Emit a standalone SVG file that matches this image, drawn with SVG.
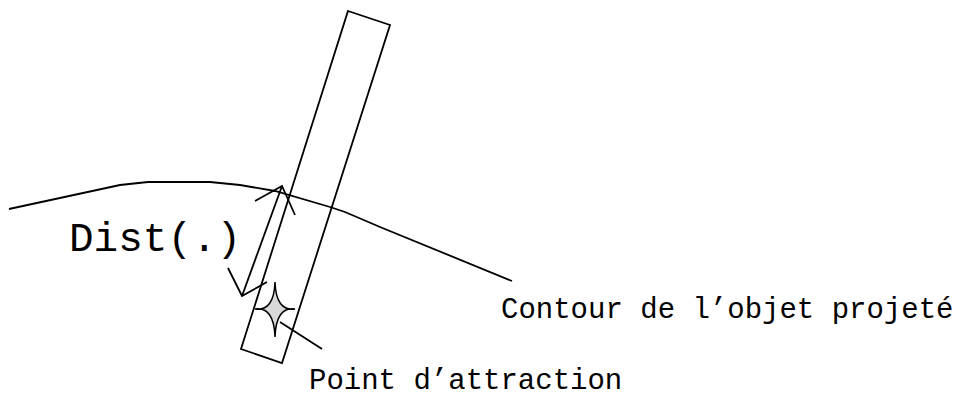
<svg xmlns="http://www.w3.org/2000/svg" width="960" height="398" viewBox="0 0 960 398">
<style>
.ln{fill:none;stroke:#000;stroke-width:1.8;stroke-linejoin:miter}
.t{font-family:"Liberation Mono","Courier New",monospace;fill:#000}
</style>
<rect width="960" height="398" fill="#fff"/>
<g id="contour">
<polyline class="ln" points="9,209 120,185 148,182 210,182 240,185 275,191 330,207 345,212 380,227 512,281"/>
</g>
<g id="rectangle">
<polygon class="ln" points="348,11 390,25 282,363 241,349"/>
</g>
<g id="star">
<path d="M275,282 Q276,311.5 295,309 Q276,306.5 275,337 Q274,306.5 255,309 Q274,311.5 275,282 Z" fill="#d9d9d9" stroke="#000" stroke-width="1.5" stroke-linejoin="miter"/>
</g>
<g id="connectors">
<polyline class="ln" points="255,201 282,186 295,215"/>
<line class="ln" x1="282" y1="186" x2="242" y2="296"/>
<polyline class="ln" points="228,268 242,296 267,282"/>
<line class="ln" x1="280" y1="322" x2="322" y2="349"/>
</g>
<g id="labels">
<text class="t" x="69" y="251" font-size="41">Dist(.)</text>
<text class="t" x="501" y="318" font-size="29">Contour de l’objet projeté</text>
<text class="t" x="309" y="389" font-size="29">Point d’attraction</text>
</g>
</svg>
